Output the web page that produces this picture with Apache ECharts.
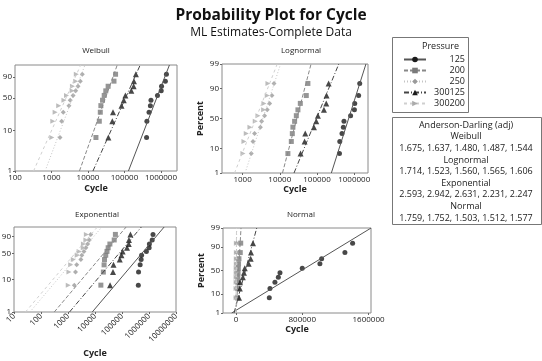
<!DOCTYPE html>
<html>
<head>
<meta charset="utf-8">
<script src="https://cdn.jsdelivr.net/npm/echarts@6/dist/echarts.min.js"></script>
<style>
  html, body { margin: 0; padding: 0; background: #fff; }
  #chart { width: 542px; height: 361px; }
</style>
</head>
<body>
<div id="chart"></div>
<script>
// groups as in the legend
const groups = ['125', '200', '250', '300125', '300200'];
// median ranks (Benard), percent
const percentRanks = [6.73, 16.35, 25.96, 35.58, 45.19, 54.81, 64.42, 74.04, 83.65, 93.27];

// cycles per group, sorted
const cycles125 = [402000, 410000, 470000, 511000, 531000, 800000, 1013000, 1034000, 1315000, 1408000];
const cycles200 = [16500, 20400, 21700, 22500, 25000, 27800, 30700, 35600, 51500, 56900];
const cycles250 = [1710, 1900, 2100, 3000, 3250, 3900, 4600, 5320, 6150, 6970];
const cycles300125 = [36200, 46400, 48400, 82600, 95500, 105700, 153500, 177500, 181000, 205000];
const cycles300200 = [1020, 1085, 1255, 1575, 2190, 2580, 3670, 3740, 4600, 4790];

// fitted lines: cycle at 1% and at 99%, same order as groups
const fitPercents = [1, 99];
const weibullFit = [[128000, 1700000], [5830, 63200], [669, 8240], [13660, 269000], [322, 6310]];
const lognormalFit = [[243000, 2070000], [11800, 69200], [1165, 10500], [24100, 385000], [607, 8530]];
const exponentialFit = [[7930, 3640000], [310, 142000], [39, 17900], [1138, 521000], [26.6, 12200]];
const normalFit = [[-52600, 1631000], [1070, 60600], [-155, 7940], [-23800, 250200], [-560, 5860]];

// tick labels
const logTicksWeibull = [100, 1000, 10000, 100000, 1000000];
const logTicksLognormal = [1000, 10000, 100000, 1000000];
const logTicksExponential = [10, 100, 1000, 10000, 100000, 1000000, 10000000];
const normalTicks = [0, 800000, 1600000];
const percentTicksShort = [1, 10, 50, 90];
const percentTicksFull = [1, 10, 50, 90, 99];

// Anderson-Darling (adj)
const adWeibull = ['1.675', '1.637', '1.480', '1.487', '1.544'];
const adLognormal = ['1.714', '1.523', '1.560', '1.565', '1.606'];
const adExponential = ['2.593', '2.942', '2.631', '2.231', '2.247'];
const adNormal = ['1.759', '1.752', '1.503', '1.512', '1.577'];

const cycles = [cycles125, cycles200, cycles250, cycles300125, cycles300200];

const symbols = ['circle', 'rect', 'diamond', 'triangle', 'path://M0,0L10,5L0,10Z'];
const symbolSizes = [5, 5, 5, 6, 5];
const pointColors = ['#1a1a1a', '#7a7a7a', '#9a9a9a', '#1a1a1a', '#ababab'];
const lineColors = ['#555', '#888', '#c4c4c4', '#444', '#cfcfcf'];
const lineTypes = ['solid', [4, 2], [1, 2], [5, 2, 1, 2], [3, 3]];

// probability scales
function weibY(p) { return Math.log(-Math.log(1 - p / 100)); }
function probit(p) {
  const a = [-3.969683028665376e+01, 2.209460984245205e+02, -2.759285104469687e+02, 1.383577518672690e+02, -3.066479806614716e+01, 2.506628277459239e+00];
  const b = [-5.447609879822406e+01, 1.615858368580409e+02, -1.556989798598866e+02, 6.680131188771972e+01, -1.328068155288572e+01];
  const c = [-7.784894002430293e-03, -3.223964580411365e-01, -2.400758277161838e+00, -2.549732539343734e+00, 4.374664141464968e+00, 2.938163982698783e+00];
  const d = [7.784695709041462e-03, 3.224671290700398e-01, 2.445134137142996e+00, 3.754408661907416e+00];
  const pl = 0.02425;
  let q, r;
  if (p < pl) {
    q = Math.sqrt(-2 * Math.log(p));
    return (((((c[0] * q + c[1]) * q + c[2]) * q + c[3]) * q + c[4]) * q + c[5]) / ((((d[0] * q + d[1]) * q + d[2]) * q + d[3]) * q + 1);
  }
  if (p > 1 - pl) {
    q = Math.sqrt(-2 * Math.log(1 - p));
    return -(((((c[0] * q + c[1]) * q + c[2]) * q + c[3]) * q + c[4]) * q + c[5]) / ((((d[0] * q + d[1]) * q + d[2]) * q + d[3]) * q + 1);
  }
  q = p - 0.5; r = q * q;
  return (((((a[0] * r + a[1]) * r + a[2]) * r + a[3]) * r + a[4]) * r + a[5]) * q / (((((b[0] * r + b[1]) * r + b[2]) * r + b[3]) * r + b[4]) * r + 1);
}
function normY(p) { return probit(p / 100); }
function log10(v) { return Math.log(v) / Math.LN10; }
function lin(v) { return v; }

const panels = [
  { title: 'Weibull', tx: log10, ty: weibY, fit: weibullFit, xMin: 2, xMax: 6.438, xTicks: logTicksWeibull, yTicks: percentTicksShort, rotate: 0, percent: false,
    grid: { left: 15, top: 65, width: 162, height: 106 }, titlePos: [96, 51], nameGap: 13 },
  { title: 'Lognormal', tx: log10, ty: normY, fit: lognormalFit, xMin: 2.446, xMax: 6.371, xTicks: logTicksLognormal, yTicks: percentTicksFull, rotate: 0, percent: true,
    grid: { left: 222, top: 64, width: 146, height: 109 }, titlePos: [301, 51], nameGap: 12 },
  { title: 'Exponential', tx: log10, ty: weibY, fit: exponentialFit, xMin: 1, xMax: 7, xTicks: logTicksExponential, yTicks: percentTicksShort, rotate: 45, percent: false,
    grid: { left: 14, top: 227, width: 162, height: 85 }, titlePos: [97, 215], nameGap: 37 },
  { title: 'Normal', tx: lin, ty: normY, fit: normalFit, xMin: -157000, xMax: 1630000, xTicks: normalTicks, yTicks: percentTicksFull, rotate: 0, percent: true,
    grid: { left: 223, top: 228, width: 148, height: 85 }, titlePos: [301, 215], nameGap: 12 }
];

const font = 'Open Sans';
const grids = [], xAxes = [], yAxes = [], series = [], graphics = [];

panels.forEach((pn, k) => {
  grids.push(Object.assign({ show: true, borderColor: '#8a8a8a', borderWidth: 1, backgroundColor: '#fff', containLabel: false, outerBoundsMode: 'none' }, pn.grid));
  const xVals = pn.xTicks.map(pn.tx);
  const xLabels = pn.xTicks.map(String);
  const yVals = pn.yTicks.map(pn.ty);
  const yLabels = pn.yTicks.map(String);
  xAxes.push({
    type: 'value', gridIndex: k, min: pn.xMin, max: pn.xMax,
    name: 'Cycle', nameLocation: 'middle', nameGap: pn.nameGap,
    nameTextStyle: { fontFamily: font, fontWeight: 'bold', fontSize: 9, color: '#222' },
    axisLine: { show: false, onZero: false },
    splitLine: { show: false },
    axisTick: { show: true, length: 2, lineStyle: { color: '#666' }, customValues: xVals },
    axisLabel: {
      customValues: xVals, fontFamily: font, fontSize: 8, color: '#222', margin: 3, rotate: pn.rotate,
      formatter: v => { const i = xVals.findIndex(t => Math.abs(t - v) < 1e-6 * Math.max(1, Math.abs(t))); return i < 0 ? '' : xLabels[i]; }
    }
  });
  yAxes.push({
    type: 'value', gridIndex: k, min: pn.ty(1), max: pn.ty(99),
    name: pn.percent ? 'Percent' : '', nameLocation: 'middle', nameGap: 17, nameRotate: 90,
    nameTextStyle: { fontFamily: font, fontWeight: 'bold', fontSize: 9, color: '#222' },
    axisLine: { show: false, onZero: false },
    splitLine: { show: false },
    axisTick: { show: true, length: 2, lineStyle: { color: '#666' }, customValues: yVals },
    axisLabel: {
      customValues: yVals, fontFamily: font, fontSize: 8, color: '#222', margin: 3,
      formatter: v => { const i = yVals.findIndex(t => Math.abs(t - v) < 1e-6); return i < 0 ? '' : yLabels[i]; }
    }
  });

  groups.forEach((g, j) => {
    series.push({
      name: g, type: 'line', xAxisIndex: k, yAxisIndex: k,
      symbol: symbols[j], showSymbol: false, clip: true, silent: true,
      itemStyle: { color: pointColors[j] },
      lineStyle: { color: lineColors[j], width: 1, type: lineTypes[j] },
      data: pn.fit[j].map((c, i) => [pn.tx(c), pn.ty(fitPercents[i])])
    });
  });
  groups.forEach((g, j) => {
    series.push({
      name: g, type: 'scatter', xAxisIndex: k, yAxisIndex: k,
      symbol: symbols[j], symbolSize: symbolSizes[j], silent: true,
      itemStyle: { color: pointColors[j] },
      data: cycles[j].map((c, i) => [pn.tx(c), pn.ty(percentRanks[i])])
    });
  });

  graphics.push({
    type: 'text', x: pn.titlePos[0], y: pn.titlePos[1],
    style: { text: pn.title, fontFamily: font, fontSize: 8, fill: '#222', align: 'center', verticalAlign: 'middle' }
  });
});

// legend box
graphics.push({ type: 'rect', shape: { x: 392.5, y: 37.5, width: 76, height: 75 }, style: { fill: 'none', stroke: '#777', lineWidth: 1 } });
graphics.push({ type: 'text', x: 459, y: 46, style: { text: 'Pressure', fontFamily: font, fontSize: 9, fill: '#222', align: 'right', verticalAlign: 'middle' } });

// Anderson-Darling box
graphics.push({ type: 'rect', shape: { x: 392.5, y: 117.5, width: 149, height: 107 }, style: { fill: 'none', stroke: '#777', lineWidth: 1 } });
const adLines = [
  'Anderson-Darling (adj)',
  'Weibull', adWeibull.join(', '),
  'Lognormal', adLognormal.join(', '),
  'Exponential', adExponential.join(', '),
  'Normal', adNormal.join(', ')
];
adLines.forEach((t, i) => {
  graphics.push({ type: 'text', x: 466, y: 125 + i * 11.65,
    style: { text: t, fontFamily: font, fontSize: 9, fill: '#222', align: 'center', verticalAlign: 'middle' } });
});

const chart = echarts.init(document.getElementById('chart'), null, { renderer: 'canvas' });
chart.setOption({
  animation: false,
  backgroundColor: '#fff',
  title: {
    text: 'Probability Plot for Cycle',
    subtext: 'ML Estimates-Complete Data',
    left: 'center', top: 3, itemGap: 3,
    textStyle: { fontFamily: font, fontWeight: 'bold', fontSize: 15.5, color: '#111' },
    subtextStyle: { fontFamily: font, fontSize: 12, color: '#111' }
  },
  legend: {
    orient: 'vertical', left: 398, top: 49, itemWidth: 22, itemHeight: 7, itemGap: 0,
    selectedMode: false, data: groups,
    formatter: name => '{a|' + name + '}',
    textStyle: { fontFamily: font, fontSize: 9, color: '#222', lineHeight: 11, rich: { a: { width: 34, align: 'right', fontFamily: font, fontSize: 9, lineHeight: 11 } } }
  },
  grid: grids,
  xAxis: xAxes,
  yAxis: yAxes,
  series: series,
  graphic: graphics
});
</script>
</body>
</html>
